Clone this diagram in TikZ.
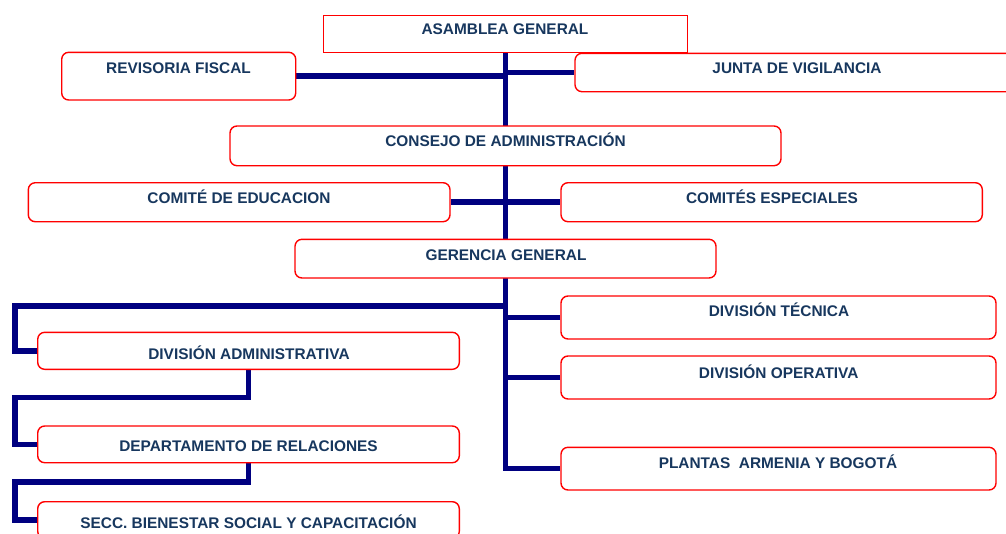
\documentclass[tikz,border=0pt]{standalone}
\usepackage{fontspec}
\setmainfont{Liberation Sans}
\usetikzlibrary{fit}
\definecolor{connc}{HTML}{000080}
\definecolor{txtc}{HTML}{17375E}
\pgfdeclarelayer{background}
\pgfsetlayers{background,main}
\begin{document}
\begin{tikzpicture}[x=1pt,y=-1pt,
 box/.style={draw=red, line width=1.4pt, fill=white, rounded corners=7pt, inner sep=0pt},
 sqbox/.style={box, rounded corners=0pt},
 lbl/.style={text=txtc, font=\fontsize{15.4}{18}\selectfont\bfseries, anchor=base, inner sep=0pt},
 link/.style={draw=connc, line width=5.5pt, line join=miter}]
\useasboundingbox (0,0) rectangle (1006,533);
% boxes
\node[sqbox, fit={(323.3,15.7) (687.3,52.3)}] (asm) {};
\node[box, fit={(61.7,52.3) (295.7,100)}] (rf) {};
\node[box, fit={(575,53.3) (1030,91.7)}] (jv) {};
\node[box, fit={(230,126) (781,165.7)}] (con) {};
\node[box, fit={(28.3,182.7) (450,221.7)}] (ced) {};
\node[box, fit={(561,182.7) (982.3,221.7)}] (ces) {};
\node[box, fit={(295,239.3) (716,278)}] (ger) {};
\node[box, fit={(561,296) (996,339)}] (dt) {};
\node[box, fit={(561,356) (996,399)}] (dop) {};
\node[box, fit={(561,447.3) (996,490)}] (pla) {};
\node[box, fit={(37.7,332.3) (459.3,369.3)}] (da) {};
\node[box, fit={(37.7,426) (459.3,462.7)}] (dep) {};
\node[box, fit={(37.7,501.7) (459.3,538.3)}] (sec) {};
% labels
\node[lbl] (asm-t) at (505,34.5) {ASAMBLEA GENERAL};
\node[lbl] (rf-t) at (178.5,73.5) {REVISORIA FISCAL};
\node[lbl] (jv-t) at (797,73.5) {JUNTA DE VIGILANCIA};
\node[lbl] (con-t) at (505.5,146.5) {CONSEJO DE ADMINISTRACIÓN};
\node[lbl] (ced-t) at (239,203.5) {COMITÉ DE EDUCACION};
\node[lbl] (ces-t) at (772,203.5) {COMITÉS ESPECIALES};
\node[lbl] (ger-t) at (506,260) {GERENCIA GENERAL};
\node[lbl] (da-t) at (249,359.5) {DIVISIÓN ADMINISTRATIVA};
\node[lbl] (dep-t) at (248.5,451.7) {DEPARTAMENTO DE RELACIONES};
\node[lbl] (sec-t) at (248.5,528) {SECC. BIENESTAR SOCIAL Y CAPACITACIÓN};
\node[lbl] (dt-t) at (779,316.7) {DIVISIÓN TÉCNICA};
\node[lbl] (dop-t) at (778.7,378) {DIVISIÓN OPERATIVA};
\node[lbl] (pla-t) at (778,468) {PLANTAS\ \ ARMENIA Y BOGOTÁ};
% connector corner points
\coordinate (j1) at (505.5,305.8);
\coordinate (c1) at (15.2,305.8);
\coordinate (c2) at (15.2,397.5);
\coordinate (c3) at (15.2,481.8);
\begin{pgfonlayer}{background}
\draw[link] (asm.south) -- (asm.south |- pla.west) -- (pla.west);
\draw[link] (rf.east) -- (rf.east -| asm.south);
\draw[link] (jv.west) -- (jv.west -| asm.south);
\draw[link] (ced.east) -- (ces.west);
\draw[link] (dt.west) -- (dt.west -| asm.south);
\draw[link] (dop.west) -- (dop.west -| asm.south);
\draw[link] (j1) -- (c1) |- (da.west);
\draw[link] (da.south) |- (c2) |- (dep.west);
\draw[link] (dep.south) |- (c3) |- (sec.west);
\end{pgfonlayer}
\end{tikzpicture}
\end{document}
